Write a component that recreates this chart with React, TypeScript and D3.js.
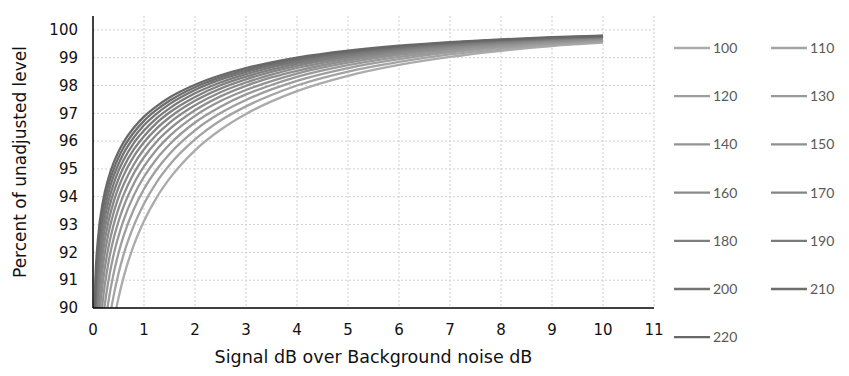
import React from "react";
import * as d3 from "d3";

const xValues = [0.02, 0.05, 0.1, 0.2, 0.3, 0.4, 0.5, 0.6, 0.8, 1, 1.25, 1.5, 2, 2.5, 3, 3.5, 4, 5, 6, 7, 8, 9, 10];

const seriesNames = ["100", "110", "120", "130", "140", "150", "160", "170", "180", "190", "200", "210", "220"];

const s100 = [76.62, 80.59, 83.57, 86.53, 88.24, 89.44, 90.36, 91.11, 92.26, 93.13, 93.98, 94.65, 95.67, 96.41, 96.98, 97.43, 97.80, 98.35, 98.74, 99.03, 99.25, 99.42, 99.54];
const s110 = [78.75, 82.35, 85.06, 87.75, 89.31, 90.40, 91.24, 91.92, 92.96, 93.75, 94.53, 95.14, 96.06, 96.74, 97.25, 97.66, 98.00, 98.50, 98.85, 99.12, 99.32, 99.47, 99.58];
const s120 = [80.52, 83.83, 86.31, 88.78, 90.20, 91.20, 91.97, 92.59, 93.55, 94.28, 94.98, 95.54, 96.39, 97.01, 97.48, 97.86, 98.17, 98.63, 98.95, 99.19, 99.38, 99.52, 99.62];
const s130 = [82.02, 85.07, 87.36, 89.64, 90.95, 91.88, 92.58, 93.16, 94.05, 94.72, 95.37, 95.88, 96.67, 97.24, 97.68, 98.02, 98.31, 98.73, 99.03, 99.25, 99.42, 99.55, 99.65];
const s140 = [83.30, 86.14, 88.26, 90.38, 91.60, 92.46, 93.11, 93.65, 94.47, 95.09, 95.70, 96.18, 96.91, 97.44, 97.84, 98.16, 98.43, 98.82, 99.10, 99.31, 99.46, 99.59, 99.67];
const s150 = [84.41, 87.06, 89.05, 91.02, 92.16, 92.96, 93.57, 94.07, 94.84, 95.42, 95.99, 96.43, 97.11, 97.61, 97.99, 98.29, 98.53, 98.90, 99.16, 99.35, 99.50, 99.61, 99.69];
const s160 = [85.39, 87.87, 89.73, 91.58, 92.65, 93.40, 93.98, 94.44, 95.16, 95.71, 96.24, 96.66, 97.29, 97.76, 98.11, 98.39, 98.63, 98.97, 99.21, 99.39, 99.53, 99.64, 99.71];
const s170 = [86.25, 88.58, 90.34, 92.08, 93.08, 93.79, 94.33, 94.77, 95.45, 95.96, 96.46, 96.85, 97.45, 97.89, 98.22, 98.49, 98.71, 99.03, 99.26, 99.43, 99.56, 99.66, 99.73];
const s180 = [87.01, 89.22, 90.87, 92.52, 93.47, 94.13, 94.64, 95.06, 95.70, 96.18, 96.66, 97.03, 97.59, 98.01, 98.32, 98.57, 98.78, 99.08, 99.30, 99.46, 99.58, 99.68, 99.74];
const s190 = [87.69, 89.78, 91.35, 92.91, 93.81, 94.44, 94.93, 95.32, 95.93, 96.38, 96.83, 97.18, 97.72, 98.11, 98.41, 98.65, 98.84, 99.13, 99.34, 99.49, 99.61, 99.69, 99.76];
const s200 = [88.31, 90.30, 91.79, 93.27, 94.12, 94.72, 95.18, 95.56, 96.13, 96.57, 96.99, 97.33, 97.84, 98.21, 98.49, 98.72, 98.90, 99.18, 99.37, 99.52, 99.63, 99.71, 99.77];
const s210 = [88.87, 90.76, 92.18, 93.59, 94.40, 94.97, 95.41, 95.77, 96.31, 96.73, 97.13, 97.45, 97.94, 98.29, 98.56, 98.78, 98.95, 99.21, 99.40, 99.54, 99.64, 99.72, 99.78];
const s220 = [89.37, 91.18, 92.53, 93.88, 94.65, 95.20, 95.62, 95.96, 96.48, 96.88, 97.26, 97.57, 98.03, 98.37, 98.63, 98.83, 99.00, 99.25, 99.43, 99.56, 99.66, 99.74, 99.79];

const seriesValues = [s100, s110, s120, s130, s140, s150, s160, s170, s180, s190, s200, s210, s220];

const xTicks = [0, 1, 2, 3, 4, 5, 6, 7, 8, 9, 10, 11];
const yTicks = [90, 91, 92, 93, 94, 95, 96, 97, 98, 99, 100];

const colors = ["#ababab", "#a4a4a4", "#9e9e9e", "#999999", "#949494", "#8f8f8f", "#8a8a8a", "#858585", "#7f7f7f", "#7a7a7a", "#747474", "#6e6e6e", "#686868"];

export default function App() {
  const W = 849, H = 376;
  const left = 93, right = 654, top = 16, bottom = 308;
  const x = d3.scaleLinear().domain([0, 11]).range([left, right]);
  const y = d3.scaleLinear().domain([90, 100.5]).range([bottom, top]);
  const line = d3
    .line<[number, number]>()
    .x((d) => x(d[0]))
    .y((d) => y(d[1]))
    .curve(d3.curveMonotoneX);
  const font = "'DejaVu Sans', 'Open Sans', sans-serif";
  const legendFont = "Lato, 'Open Sans', sans-serif";
  const colX = [674, 771];
  const rowY0 = 48;
  const rowStep = 48.2;

  return (
    <svg width={W} height={H} style={{ position: "absolute", left: 0, top: 0, background: "#fff" }}>
      <defs>
        <clipPath id="plotClip">
          <rect x={left} y={top} width={right - left} height={bottom - top} />
        </clipPath>
      </defs>
      {yTicks.slice(1).map((t) => (
        <line key={"gy" + t} x1={left} x2={right} y1={y(t)} y2={y(t)} stroke="#cfcfcf" strokeWidth={1} strokeDasharray="2,2" />
      ))}
      {xTicks.slice(1).map((t) => (
        <line key={"gx" + t} x1={x(t)} x2={x(t)} y1={top} y2={bottom} stroke="#cfcfcf" strokeWidth={1} strokeDasharray="2,2" />
      ))}
      <g clipPath="url(#plotClip)">
        {seriesValues.map((vals, i) => (
          <path
            key={seriesNames[i]}
            d={line(xValues.map((xv, j) => [xv, vals[j]] as [number, number])) || ""}
            fill="none"
            stroke={colors[i]}
            strokeWidth={2.3}
          />
        ))}
      </g>
      <line x1={left} x2={left} y1={top} y2={bottom} stroke="#000" strokeWidth={1.5} />
      <line x1={left} x2={right} y1={bottom} y2={bottom} stroke="#000" strokeWidth={1.5} />
      {yTicks.map((t) => (
        <text key={"yl" + t} x={78} y={y(t)} dy="0.35em" textAnchor="end" fontFamily={font} fontSize={15} fill="#111">
          {t}
        </text>
      ))}
      {xTicks.map((t) => (
        <text key={"xl" + t} x={x(t)} y={330} dy="0.35em" textAnchor="middle" fontFamily={font} fontSize={15} fill="#111">
          {t}
        </text>
      ))}
      <text x={(left + right) / 2} y={357} dy="0.35em" textAnchor="middle" fontFamily={font} fontSize={17.5} fill="#111">
        Signal dB over Background noise dB
      </text>
      <text
        transform={`translate(20, ${(top + bottom) / 2}) rotate(-90)`}
        dy="0.35em"
        textAnchor="middle"
        fontFamily={font}
        fontSize={17}
        fill="#111"
      >
        Percent of unadjusted level
      </text>
      {seriesNames.map((name, i) => {
        const cx = colX[i % 2];
        const cy = rowY0 + Math.floor(i / 2) * rowStep;
        return (
          <g key={"lg" + name}>
            <line x1={cx} x2={cx + 36} y1={cy} y2={cy} stroke={colors[i]} strokeWidth={2.3} />
            <text x={cx + 39} y={cy} dy="0.35em" fontFamily={legendFont} fontSize={14} fill="#595959">
              {name}
            </text>
          </g>
        );
      })}
    </svg>
  );
}
